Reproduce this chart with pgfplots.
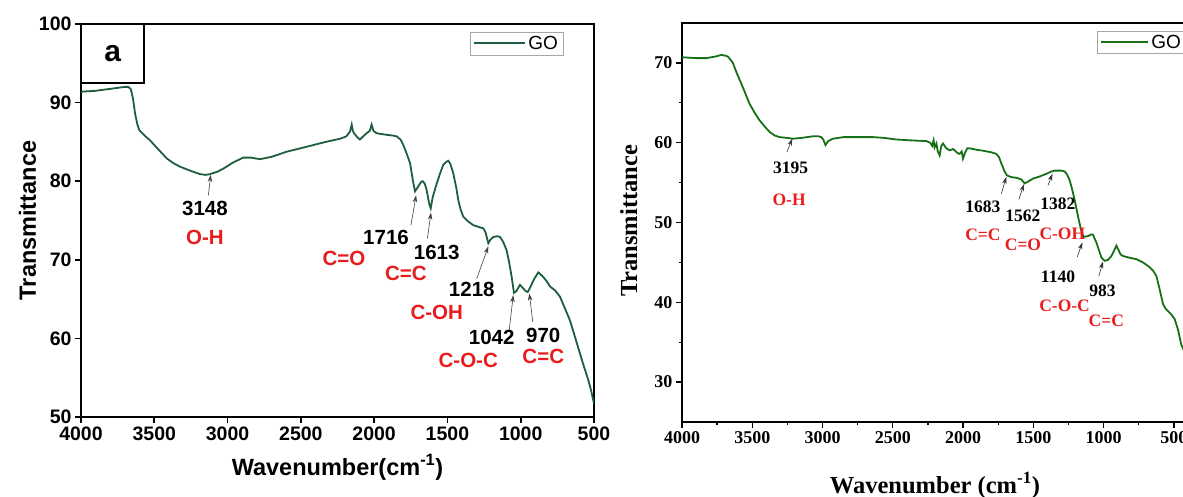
\documentclass[border=0pt]{standalone}
\usepackage{pgfplots}
\pgfplotsset{compat=1.18}
\usepackage{pgfplotstable}
\usepackage{fontspec}
\setmainfont{Liberation Sans}
\newfontfamily\timesfont{Liberation Serif}
\usetikzlibrary{arrows.meta}

\definecolor{goA}{RGB}{28,94,62}
\definecolor{goB}{RGB}{22,112,22}
\definecolor{band}{RGB}{232,28,28}
\newcommand{\fs}[1]{\fontsize{#1}{#1}\selectfont}

% FTIR spectrum of GO, panel a
\pgfplotstableread{
wn    T
4000 91.3
3988 91.4
3900 91.5
3780 91.8
3700 92.0
3677 92.0
3660 91.7
3645 90.5
3631 88.6
3615 87.2
3602 86.5
3560 85.7
3529 85.2
3470 84.0
3415 82.9
3370 82.3
3325 81.85
3250 81.3
3188 80.9
3150 80.8
3120 80.9
3070 81.2
3029 81.6
2960 82.4
2893 83.0
2840 83.0
2779 82.8
2700 83.1
2597 83.75
2500 84.2
2415 84.6
2330 85.0
2233 85.4
2190 85.7
2165 86.3
2153 87.2
2145 86.4
2137 86.1
2115 85.6
2097 85.3
2075 85.7
2051 86.1
2030 86.4
2017 87.2
2005 86.4
1983 86.1
1950 86.0
1914 85.9
1870 85.8
1846 85.7
1820 85.3
1801 84.6
1780 83.6
1755 82.3
1735 80.0
1721 78.7
1700 79.3
1680 79.9
1669 80.0
1655 79.7
1642 78.9
1625 77.2
1614 76.55
1600 78.0
1573 79.7
1550 81.0
1528 82.1
1505 82.5
1494 82.6
1480 82.2
1460 81.0
1440 79.2
1426 77.6
1410 76.4
1392 75.5
1360 74.9
1323 74.4
1290 74.2
1255 74.0
1240 73.5
1221 72.1
1205 72.6
1187 72.9
1160 73.0
1141 72.9
1120 72.3
1096 71.2
1080 69.8
1062 67.85
1046 65.8
1030 66.0
1005 66.8
985 66.4
965 66.0
952 65.9
935 66.5
910 67.5
880 68.4
850 67.9
820 67.2
800 66.6
765 66.1
732 65.3
700 63.9
664 62.3
630 60.2
596 58.1
570 56.5
539 54.7
520 53.4
500 51.7
}\spectrumA

% FTIR spectrum of GO, second panel
\pgfplotstableread{
wn    T
4000 70.6
3994 70.7
3900 70.6
3828 70.6
3760 70.8
3721 71.0
3690 70.9
3674 70.8
3655 70.4
3638 70.0
3610 68.7
3579 67.45
3550 66.2
3520 64.9
3485 63.8
3448 62.8
3410 62.0
3377 61.35
3340 60.9
3306 60.7
3250 60.6
3211 60.5
3150 60.6
3069 60.8
3030 60.8
3009 60.7
2995 60.4
2979 59.7
2960 60.2
2927 60.5
2850 60.7
2784 60.7
2700 60.7
2642 60.7
2560 60.6
2476 60.4
2380 60.3
2262 60.2
2235 60.0
2220 59.6
2210 60.3
2203 59.4
2190 59.9
2180 58.9
2167 58.4
2155 59.6
2143 59.9
2120 59.3
2096 59.05
2070 59.2
2040 58.7
2025 58.6
2010 58.9
2001 58.0
1985 58.8
1970 59.3
1954 59.3
1900 59.1
1859 59.0
1800 58.8
1764 58.6
1745 58.2
1728 57.4
1705 56.4
1688 55.9
1660 55.7
1621 55.6
1586 55.4
1562 54.9
1540 55.1
1503 55.5
1450 55.8
1408 56.1
1370 56.4
1349 56.5
1300 56.5
1278 56.4
1260 56.0
1242 55.3
1225 54.2
1206 52.8
1190 51.4
1176 50.25
1160 49.0
1142 48.2
1110 48.3
1090 48.5
1076 48.5
1065 48.0
1052 47.5
1035 46.6
1016 45.6
993 45.2
970 45.3
945 45.8
925 46.5
910 47.1
895 46.6
880 46.0
863 45.8
820 45.6
767 45.4
720 45.0
673 44.4
650 44.0
625 43.3
600 41.5
578 39.8
560 39.2
543 38.9
520 38.5
495 37.9
470 36.5
448 34.7
430 34.0
}\spectrumB

\begin{document}
\begin{tikzpicture}
% ---------------- panel a ----------------
\begin{axis}[
  at={(81pt,80pt)}, anchor=south west,
  scale only axis, width=513pt, height=393pt,
  x dir=reverse, xmin=500, xmax=4000, ymin=50, ymax=100,
  xtick={500,1000,...,4000}, ytick={50,60,...,100},
  xtick pos=bottom, ytick pos=left,
  tick align=outside, major tick length=6pt,
  tick style={line width=1.6pt, black},
  axis line style={line width=1.9pt},
  tick label style={font=\fs{19.5}\bfseries},
  /pgf/number format/assume math mode=true,
  /pgf/number format/set thousands separator={},
  scaled ticks=false,
  xlabel={Wavenumber(cm\textsuperscript{-1})},
  ylabel={Transmittance},
  label style={font=\fs{23.5}\bfseries},
  xlabel style={at={(axis description cs:0.5,-0.1476)}, anchor=base},
  ylabel style={at={(axis description cs:-0.0877,0.5)}, anchor=base},
  legend style={at={(rel axis cs:0.9396,0.980)}, anchor=north east,
    draw=gray!70, font=\fs{19}, inner xsep=3pt, inner ysep=2pt},
  legend cell align=left,
  legend image code/.code={\draw[goA, line width=2pt] (0pt,0.5pt) -- (51pt,0.5pt);},
]
\addplot[goA, line width=1.8pt] table[x=wn, y=T] {\spectrumA};
\addlegendentry{GO}

\draw[line width=2pt, fill=white] (rel axis cs:0,1) rectangle (rel axis cs:0.1234,0.849);
\node[font=\fs{30}\bfseries] at (rel axis cs:0.0617,0.9245) {a};

\begin{scope}[-{Stealth[length=7pt,width=4.5pt]}, line width=0.6pt, black!75]
\draw (axis cs:3131,78.2) -- (axis cs:3115,80.8);
\draw (axis cs:1749,74.4) -- (axis cs:1714,78.2);
\draw (axis cs:1637,72.7) -- (axis cs:1612,76.0);
\draw (axis cs:1300,67.6) -- (axis cs:1221,71.7);
\draw (axis cs:1078,61.1) -- (axis cs:1051,65.5);
\draw (axis cs:918,62.1) -- (axis cs:941,65.7);
\end{scope}

\begin{scope}[every node/.style={font=\fs{20.5}\bfseries}]
\node at (axis cs:3154,76.5) {3148};
\node[text=band] at (axis cs:3154,72.8) {O-H};
\node at (axis cs:1919,72.9) {1716};
\node[text=band] at (axis cs:2206,70.2) {C=O};
\node at (axis cs:1573,70.9) {1613};
\node[text=band] at (axis cs:1783,68.3) {C=C};
\node at (axis cs:1334,66.2) {1218};
\node[text=band] at (axis cs:1573,63.3) {C-OH};
\node at (axis cs:1198,60.1) {1042};
\node[text=band] at (axis cs:1358,57.2) {C-O-C};
\node at (axis cs:846,60.4) {970};
\node[text=band] at (axis cs:846,57.7) {C=C};
\end{scope}
\end{axis}

% ---------------- second panel ----------------
\begin{axis}[
  at={(682pt,75pt)}, anchor=south west,
  scale only axis, width=506pt, height=399pt,
  x dir=reverse, xmin=400, xmax=4000, ymin=25, ymax=75,
  xtick={500,1000,...,4000}, ytick={30,40,...,70},
  minor x tick num=1, minor y tick num=1,
  xtick pos=bottom, ytick pos=left,
  tick align=outside, major tick length=6pt, minor tick length=3.5pt,
  tick style={line width=1.3pt, black},
  axis line style={line width=1.8pt},
  tick label style={font=\timesfont\fs{18}\bfseries},
  /pgf/number format/assume math mode=true,
  /pgf/number format/set thousands separator={},
  scaled ticks=false,
  xlabel={Wavenumber (cm\textsuperscript{-1})},
  ylabel={Transmittance},
  label style={font=\timesfont\fs{24.5}\bfseries},
  xlabel style={at={(axis description cs:0.5,-0.178)}, anchor=base},
  ylabel style={at={(axis description cs:-0.0889,0.504)}, anchor=base},
  legend style={at={(rel axis cs:0.8208,0.9807)}, anchor=north west,
    draw=gray!70, font=\fs{19}, inner xsep=3pt, inner ysep=2pt},
  legend cell align=left,
  legend image code/.code={\draw[goB, line width=1.8pt] (0pt,0pt) -- (47pt,0pt);},
]
\addplot[goB, line width=1.8pt] table[x=wn, y=T] {\spectrumB};
\addlegendentry{GO}

\begin{scope}[-{Stealth[length=7pt,width=4.5pt]}, line width=0.6pt, black!80]
\draw (axis cs:3254,58.8) -- (axis cs:3216,60.5);
\draw (axis cs:1728,53.6) -- (axis cs:1693,55.7);
\draw (axis cs:1603,52.9) -- (axis cs:1567,54.8);
\draw (axis cs:1396,54.65) -- (axis cs:1365,56.1);
\draw (axis cs:1187,45.7) -- (axis cs:1152,47.5);
\draw (axis cs:1034,43.3) -- (axis cs:1005,45.1);
\end{scope}

\begin{scope}[every node/.style={font=\timesfont\fs{17.5}\bfseries, inner sep=1pt}]
\node at (axis cs:3228,56.8) {3195};
\node[text=band] at (axis cs:3238,52.9) {O-H};
\node at (axis cs:1859,52.0) {1683};
\node at (axis cs:1574,50.9) {1562};
\node at (axis cs:1325,52.3) {1382};
\node[text=band] at (axis cs:1859,48.4) {C=C};
\node[text=band] at (axis cs:1574,47.2) {C=O};
\node[text=band] at (axis cs:1294,48.6) {C-OH};
\node at (axis cs:1325,43.2) {1140};
\node at (axis cs:1009,41.45) {983};
\node[text=band] at (axis cs:1278,39.6) {C-O-C};
\node[text=band] at (axis cs:981,37.7) {C=C};
\end{scope}
\end{axis}

\pgfresetboundingbox
\useasboundingbox (0pt,0pt) rectangle (1183pt,497pt);
\end{tikzpicture}
\end{document}
